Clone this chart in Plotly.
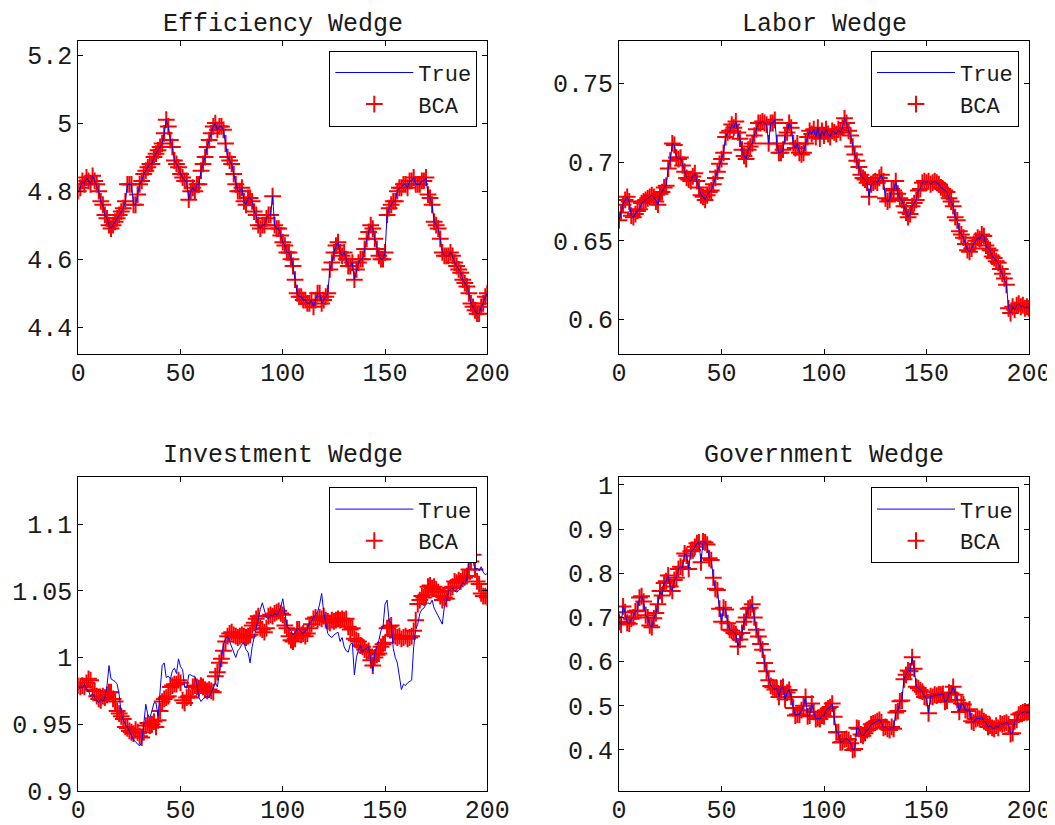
import plotly.graph_objects as go

t = list(range(201))

eff_bca = [
    4.80, 4.81, 4.83, 4.82, 4.84, 4.83, 4.82, 4.845, 4.83, 4.82,
    4.80, 4.77, 4.76, 4.73, 4.72, 4.70, 4.69, 4.70, 4.71, 4.72,
    4.73, 4.74, 4.75, 4.77, 4.82, 4.82, 4.82, 4.76, 4.76, 4.79,
    4.82, 4.83, 4.85, 4.86, 4.87, 4.88, 4.88, 4.90, 4.91, 4.92,
    4.93, 4.94, 4.97, 5.01, 4.99, 4.95, 4.93, 4.89, 4.88, 4.87,
    4.85, 4.84, 4.83, 4.83, 4.775, 4.80, 4.81, 4.80, 4.82, 4.82,
    4.86, 4.88, 4.90, 4.93, 4.95, 4.97, 4.99, 5.00, 4.98, 4.99,
    4.99, 4.98, 4.94, 4.90, 4.89, 4.88, 4.85, 4.82, 4.80, 4.80,
    4.81, 4.77, 4.76, 4.78, 4.78, 4.77, 4.74, 4.73, 4.70, 4.69,
    4.70, 4.70, 4.72, 4.73, 4.73, 4.785, 4.70, 4.69, 4.69, 4.67,
    4.65, 4.64, 4.62, 4.62, 4.60, 4.58, 4.54, 4.50, 4.49, 4.49,
    4.48, 4.48, 4.47, 4.47, 4.48, 4.46, 4.48, 4.50, 4.50, 4.47,
    4.48, 4.49, 4.50, 4.57, 4.59, 4.62, 4.64, 4.65, 4.62, 4.61,
    4.62, 4.60, 4.58, 4.58, 4.59, 4.54, 4.57, 4.59, 4.60, 4.60,
    4.63, 4.66, 4.68, 4.70, 4.69, 4.66, 4.63, 4.61, 4.60, 4.60,
    4.62, 4.73, 4.75, 4.76, 4.77, 4.77, 4.80, 4.81, 4.81, 4.82,
    4.82, 4.81, 4.83, 4.83, 4.84, 4.82, 4.82, 4.82, 4.83, 4.83,
    4.84, 4.79, 4.78, 4.76, 4.71, 4.70, 4.69, 4.66, 4.62, 4.61,
    4.61, 4.61, 4.62, 4.61, 4.59, 4.58, 4.57, 4.56, 4.54, 4.53,
    4.52, 4.50, 4.47, 4.46, 4.45, 4.44, 4.44, 4.46, 4.47, 4.49,
    4.50,
]
eff_true = list(eff_bca)

lab_bca = [
    0.663, 0.668, 0.673, 0.676, 0.678, 0.675, 0.666, 0.665, 0.667, 0.669,
    0.670, 0.674, 0.675, 0.676, 0.677, 0.678, 0.679, 0.678, 0.675, 0.673,
    0.680, 0.681, 0.684, 0.685, 0.696, 0.701, 0.712, 0.711, 0.703, 0.702,
    0.703, 0.698, 0.694, 0.690, 0.689, 0.688, 0.691, 0.693, 0.688, 0.684,
    0.679, 0.678, 0.676, 0.679, 0.681, 0.682, 0.686, 0.690, 0.694, 0.699,
    0.702, 0.706, 0.716, 0.719, 0.720, 0.724, 0.722, 0.726, 0.719, 0.715,
    0.708, 0.704, 0.702, 0.708, 0.710, 0.712, 0.717, 0.721, 0.725, 0.725,
    0.726, 0.725, 0.724, 0.712, 0.725, 0.725, 0.727, 0.712, 0.706, 0.706,
    0.708, 0.717, 0.719, 0.725, 0.722, 0.712, 0.709, 0.712, 0.706, 0.705,
    0.706, 0.712, 0.716, 0.720, 0.718, 0.721, 0.716, 0.722, 0.715, 0.720,
    0.717, 0.721, 0.718, 0.716, 0.720, 0.719, 0.718, 0.721, 0.719, 0.722,
    0.728, 0.725, 0.720, 0.717, 0.710, 0.705, 0.701, 0.697, 0.692, 0.690,
    0.689, 0.687, 0.678, 0.686, 0.687, 0.688, 0.687, 0.690, 0.692, 0.688,
    0.677, 0.675, 0.676, 0.683, 0.682, 0.688, 0.680, 0.677, 0.676, 0.672,
    0.668, 0.665, 0.667, 0.672, 0.674, 0.676, 0.682, 0.683, 0.687, 0.688,
    0.687, 0.688, 0.686, 0.687, 0.688, 0.687, 0.686, 0.684, 0.683, 0.682,
    0.681, 0.677, 0.675, 0.672, 0.665, 0.663, 0.656, 0.654, 0.652, 0.648,
    0.644, 0.643, 0.645, 0.648, 0.650, 0.652, 0.651, 0.654, 0.653, 0.647,
    0.645, 0.644, 0.640, 0.639, 0.637, 0.636, 0.632, 0.629, 0.626, 0.622,
    0.607, 0.604, 0.608, 0.606, 0.609, 0.610, 0.608, 0.609, 0.607, 0.608,
    0.607,
]
lab_true = list(lab_bca)

inv_bca = [
    0.979, 0.978, 0.979, 0.978, 0.981, 0.984, 0.983, 0.976, 0.975, 0.971,
    0.969, 0.968, 0.971, 0.970, 0.972, 0.974, 0.974, 0.969, 0.967, 0.960,
    0.958, 0.956, 0.954, 0.948, 0.947, 0.945, 0.944, 0.943, 0.946, 0.944,
    0.941, 0.940, 0.944, 0.949, 0.951, 0.949, 0.950, 0.952, 0.948, 0.953,
    0.960, 0.967, 0.969, 0.970, 0.971, 0.978, 0.979, 0.980, 0.980, 0.983,
    0.981, 0.968, 0.966, 0.970, 0.971, 0.970, 0.978, 0.979, 0.978, 0.977,
    0.979, 0.978, 0.976, 0.975, 0.976, 0.975, 0.974, 0.986, 0.989, 0.996,
    0.999, 1.005, 1.012, 1.016, 1.018, 1.019, 1.017, 1.016, 1.015, 1.016,
    1.017, 1.016, 1.015, 1.016, 1.017, 1.024, 1.026, 1.029, 1.031, 1.022,
    1.021, 1.019, 1.022, 1.031, 1.032, 1.031, 1.033, 1.034, 1.035, 1.033,
    1.032, 1.024, 1.022, 1.016, 1.013, 1.012, 1.014, 1.021, 1.021, 1.017,
    1.018, 1.016, 1.018, 1.022, 1.025, 1.029, 1.030, 1.028, 1.030, 1.029,
    1.031, 1.028, 1.027, 1.026, 1.028, 1.027, 1.028, 1.029, 1.028, 1.029,
    1.028, 1.029, 1.023, 1.021, 1.022, 1.014, 1.013, 1.012, 1.009, 1.008,
    1.006, 1.004, 1.005, 0.998, 0.994, 1.000, 1.002, 1.003, 1.008, 1.010,
    1.011, 1.022, 1.023, 1.024, 1.017, 1.016, 1.015, 1.016, 1.014, 1.015,
    1.016, 1.014, 1.015, 1.016, 1.020, 1.028, 1.040, 1.043, 1.046, 1.045,
    1.047, 1.053, 1.054, 1.052, 1.053, 1.051, 1.049, 1.046, 1.043, 1.045,
    1.044, 1.050, 1.052, 1.053, 1.057, 1.056, 1.058, 1.057, 1.059, 1.060,
    1.061, 1.066, 1.072, 1.077, 1.066, 1.057, 1.055, 1.048, 1.046, 1.046,
    1.045,
]
inv_true = [
    0.976, 0.978, 0.977, 0.980, 0.976, 0.975, 0.971, 0.973, 0.970, 0.968,
    0.966, 0.969, 0.967, 0.970, 0.978, 0.994, 0.984, 0.983, 0.982, 0.980,
    0.972, 0.958, 0.953, 0.950, 0.948, 0.945, 0.941, 0.938, 0.937, 0.935,
    0.934, 0.936, 0.950, 0.965, 0.957, 0.955, 0.960, 0.966, 0.966, 0.956,
    0.975, 0.994, 0.996, 0.985, 0.986, 0.984, 0.990, 0.992, 0.988, 0.999,
    0.993, 0.991, 0.978, 0.977, 0.987, 0.987, 0.986, 0.986, 0.980, 0.970,
    0.967, 0.969, 0.970, 0.971, 0.970, 0.974, 0.978, 0.981, 0.978, 0.990,
    0.998, 1.010, 1.014, 1.016, 1.012, 1.008, 1.003, 1.000, 1.005, 1.007,
    1.010, 1.011, 1.006, 1.004, 0.996, 1.008, 1.015, 1.022, 1.030, 1.036,
    1.041, 1.035, 1.030, 1.029, 1.032, 1.031, 1.033, 1.032, 1.034, 1.038,
    1.044, 1.034, 1.024, 1.022, 1.020, 1.017, 1.018, 1.022, 1.021, 1.019,
    1.018, 1.020, 1.021, 1.026, 1.027, 1.030, 1.032, 1.034, 1.040, 1.048,
    1.034, 1.025, 1.018, 1.016, 1.015, 1.017, 1.018, 1.019, 1.012, 1.015,
    1.008, 1.005, 1.004, 1.010, 1.011, 0.987, 1.000, 1.006, 1.009, 1.004,
    1.006, 1.007, 1.008, 0.998, 0.990, 1.004, 1.008, 1.013, 1.020, 1.023,
    1.040, 1.043, 1.027, 1.026, 1.007, 1.000, 0.996, 0.986, 0.976, 0.980,
    0.979, 0.981, 0.982, 0.983, 1.008, 1.021, 1.025, 1.033, 1.036, 1.037,
    1.040, 1.041, 1.040, 1.043, 1.037, 1.034, 1.030, 1.027, 1.025, 1.038,
    1.042, 1.050, 1.051, 1.052, 1.050, 1.049, 1.050, 1.053, 1.056, 1.055,
    1.058, 1.075, 1.083, 1.072, 1.066, 1.067, 1.065, 1.068, 1.064, 1.062,
    1.063,
]

gov_bca = [
    0.690, 0.684, 0.725, 0.712, 0.688, 0.686, 0.697, 0.700, 0.714, 0.716,
    0.745, 0.748, 0.736, 0.705, 0.700, 0.682, 0.678, 0.698, 0.710, 0.730,
    0.760, 0.750, 0.778, 0.782, 0.795, 0.770, 0.760, 0.785, 0.790, 0.810,
    0.815, 0.812, 0.845, 0.840, 0.810, 0.850, 0.852, 0.860, 0.868, 0.870,
    0.825, 0.872, 0.870, 0.865, 0.834, 0.830, 0.790, 0.765, 0.762, 0.720,
    0.690, 0.722, 0.718, 0.687, 0.672, 0.670, 0.665, 0.662, 0.634, 0.650,
    0.665, 0.690, 0.700, 0.720, 0.722, 0.730, 0.700, 0.672, 0.657, 0.640,
    0.627, 0.597, 0.578, 0.558, 0.545, 0.542, 0.537, 0.540, 0.520, 0.540,
    0.543, 0.515, 0.530, 0.536, 0.520, 0.495, 0.478, 0.480, 0.480, 0.490,
    0.500, 0.520, 0.476, 0.478, 0.505, 0.486, 0.470, 0.472, 0.470, 0.478,
    0.476, 0.490, 0.494, 0.497, 0.505, 0.475, 0.440, 0.440, 0.417, 0.418,
    0.424, 0.425, 0.423, 0.415, 0.400, 0.402, 0.450, 0.448, 0.435, 0.432,
    0.438, 0.445, 0.448, 0.458, 0.460, 0.462, 0.465, 0.468, 0.463, 0.450,
    0.452, 0.448, 0.445, 0.452, 0.448, 0.485, 0.488, 0.510, 0.512, 0.560,
    0.570, 0.580, 0.578, 0.610, 0.584, 0.543, 0.540, 0.535, 0.532, 0.520,
    0.518, 0.483, 0.522, 0.520, 0.525, 0.523, 0.526, 0.525, 0.527, 0.509,
    0.512, 0.530, 0.528, 0.543, 0.525, 0.513, 0.486, 0.505, 0.503, 0.490,
    0.488, 0.492, 0.465, 0.462, 0.470, 0.472, 0.470, 0.475, 0.465, 0.462,
    0.452, 0.455, 0.450, 0.448, 0.455, 0.450, 0.460, 0.458, 0.460, 0.462,
    0.458, 0.436, 0.438, 0.465, 0.468, 0.480, 0.483, 0.485, 0.487, 0.485,
    0.486,
]
gov_true = list(gov_bca)

titles = ["Efficiency Wedge", "Labor Wedge", "Investment Wedge", "Government Wedge"]
x_ticks = [0, 50, 100, 150, 200]
y_ticks = [
    [4.4, 4.6, 4.8, 5.0, 5.2],
    [0.6, 0.65, 0.7, 0.75],
    [0.9, 0.95, 1.0, 1.05, 1.1],
    [0.4, 0.5, 0.6, 0.7, 0.8, 0.9, 1.0],
]
y_tick_text = [
    ["4.4", "4.6", "4.8", "5", "5.2"],
    ["0.6", "0.65", "0.7", "0.75"],
    ["0.9", "0.95", "1", "1.05", "1.1"],
    ["0.4", "0.5", "0.6", "0.7", "0.8", "0.9", "1"],
]
y_ranges = [[4.3215, 5.242], [0.5779, 0.7774], [0.9, 1.135], [0.307, 1.0174]]
true_series = [eff_true, lab_true, inv_true, gov_true]
bca_series = [eff_bca, lab_bca, inv_bca, gov_bca]

# page is 1055x825; the html body has an 8px margin, so the figure is smaller
OFF = 8
W, H = 1055 - OFF, 825 - OFF
FONT = "Liberation Mono, Courier New, monospace"
FS = 25
LFS = 22
TXT = "#1a1a1a"
# page-pixel boxes of the four axes: (left, right, top, bottom)
boxes = [(78.3, 487.3, 40.7, 354.0), (619.0, 1029.0, 40.7, 354.0),
         (78.3, 487.3, 477.3, 791.0), (619.0, 1029.0, 477.3, 791.0)]

fig = go.Figure()
layout = dict(width=W, height=H, margin=dict(l=0, r=0, t=0, b=0, autoexpand=False),
              paper_bgcolor="white", plot_bgcolor="white",
              font=dict(family=FONT, size=FS, color=TXT),
              annotations=[])

for i in range(4):
    sfx = "" if i == 0 else str(i + 1)
    lg = "legend" + sfx
    fig.add_trace(go.Scatter(
        x=t, y=bca_series[i], mode="markers", name="BCA",
        marker=dict(symbol="cross-thin", size=12, color="red",
                    line=dict(color="red", width=2)),
        xaxis="x" + sfx, yaxis="y" + sfx, legend=lg, legendrank=2))
    fig.add_trace(go.Scatter(
        x=t, y=true_series[i], mode="lines", name="True",
        line=dict(color="blue", width=1),
        xaxis="x" + sfx, yaxis="y" + sfx, legend=lg, legendrank=1))

    l, r, tp, b = [v - OFF for v in boxes[i]]
    axcommon = dict(showgrid=False, zeroline=False, showline=True,
                    linecolor="black", linewidth=1, mirror="ticks",
                    ticks="inside", ticklen=5, tickcolor="black",
                    automargin=False,
                    tickfont=dict(family=FONT, size=FS, color=TXT))
    layout["xaxis" + sfx] = dict(domain=[l / W, r / W], anchor="y" + sfx,
                                 range=[0, 200], tickvals=x_ticks,
                                 ticklabelstandoff=-4, **axcommon)
    layout["yaxis" + sfx] = dict(domain=[1 - b / H, 1 - tp / H], anchor="x" + sfx,
                                 range=y_ranges[i], tickvals=y_ticks[i],
                                 ticktext=y_tick_text[i], **axcommon)
    layout[lg] = dict(x=(r - 10) / W, y=1 - (tp + 10) / H, xanchor="right",
                      yanchor="top", xref="paper", yref="paper",
                      bgcolor="white", bordercolor="black", borderwidth=1,
                      font=dict(family=FONT, size=LFS, color=TXT),
                      tracegroupgap=0, itemwidth=78)
    # title sits just above the axes box, its top touching the figure edge on the top row
    layout["annotations"].append(dict(
        text=titles[i], x=(l + r) / 2 / W, y=1 - max(tp - 38, 0) / H,
        xref="paper", yref="paper", xanchor="center", yanchor="top",
        showarrow=False, font=dict(family=FONT, size=FS, color=TXT)))

fig.update_layout(**layout)
fig.write_html("out.html")
